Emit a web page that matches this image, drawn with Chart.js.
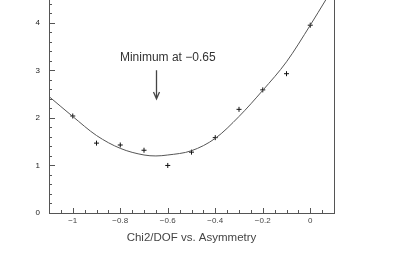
<!DOCTYPE html>
<html><head><meta charset="utf-8">
<script src="https://cdn.jsdelivr.net/npm/chart.js@4"></script>
<style>html,body{margin:0;padding:0;background:#fff}#wrap{width:393px;height:258px}</style>
</head><body><div id="wrap"><canvas id="c" width="393" height="258"></canvas></div>
<script>
// measured points
const asymmetry = [-1.0, -0.9, -0.8, -0.7, -0.6, -0.5, -0.4, -0.3, -0.2, -0.1, 0.0];
const chi2dof   = [2.04, 1.47, 1.43, 1.32, 1.00, 1.28, 1.585, 2.18, 2.59, 2.93, 3.95];
// fitted curve
const fitX = [-1.1, -1.0, -0.9, -0.8, -0.7, -0.65, -0.6, -0.5, -0.4, -0.3, -0.2, -0.1, 0.0, 0.065];
const fitY = [2.45, 2.03, 1.63, 1.36, 1.22, 1.20, 1.22, 1.31, 1.57, 2.03, 2.58, 3.18, 3.95, 4.48];
// axes
const xTickLabels = [-1, -0.8, -0.6, -0.4, -0.2, 0];
const yTickLabels = [0, 1, 2, 3, 4];
const xMinorTicks = [-1.1,-1.05,-1.0,-0.95,-0.9,-0.85,-0.8,-0.75,-0.7,-0.65,-0.6,-0.55,-0.5,-0.45,-0.4,-0.35,-0.3,-0.25,-0.2,-0.15,-0.1,-0.05,0,0.05,0.1];
const yMinorTicks = [0,0.2,0.4,0.6,0.8,1,1.2,1.4,1.6,1.8,2,2.2,2.4,2.6,2.8,3,3.2,3.4,3.6,3.8,4,4.2,4.4];
const titleText = 'Chi2/DOF vs. Asymmetry';
const annotationText = 'Minimum at \u22120.65';
const minimumAt = -0.65;

const fmt = v => (v < 0 ? '\u2212' : '') + String(Math.abs(Math.round(v * 10) / 10));
const FONT = "'Liberation Sans', Arial, sans-serif";
const AXIS = '#555';

const frame = {
  id: 'frame',
  afterDatasetsDraw(chart) {
    const {ctx, chartArea: a, scales: {x, y}} = chart;
    ctx.save();
    ctx.strokeStyle = AXIS;
    ctx.lineWidth = 1;
    // right border
    ctx.beginPath();
    ctx.moveTo(Math.round(a.right) + 0.5, a.top);
    ctx.lineTo(Math.round(a.right) + 0.5, a.bottom);
    ctx.stroke();
    // inward ticks
    ctx.beginPath();
    xMinorTicks.forEach(v => {
      const px = Math.round(x.getPixelForValue(v)) + 0.5;
      const major = xTickLabels.some(t => Math.abs(t - v) < 1e-6);
      ctx.moveTo(px, a.bottom);
      ctx.lineTo(px, a.bottom - (major ? 5 : 3));
    });
    yMinorTicks.forEach(v => {
      const py = Math.round(y.getPixelForValue(v)) + 0.5;
      const major = yTickLabels.some(t => Math.abs(t - v) < 1e-6);
      ctx.moveTo(a.left, py);
      ctx.lineTo(a.left + (major ? 6 : 3), py);
    });
    ctx.stroke();
    // annotation
    ctx.fillStyle = '#333';
    ctx.font = '12px ' + FONT;
    ctx.textAlign = 'center';
    ctx.textBaseline = 'middle';
    ctx.fillText(annotationText, x.getPixelForValue(-0.6), y.getPixelForValue(3.27));
    // arrow
    const ax = Math.round(x.getPixelForValue(minimumAt)) + 0.5;
    const y0 = y.getPixelForValue(3.0), y1 = y.getPixelForValue(2.4);
    ctx.strokeStyle = '#444';
    ctx.lineWidth = 1.3;
    ctx.beginPath();
    ctx.moveTo(ax, y0); ctx.lineTo(ax, y1);
    ctx.moveTo(ax - 3, y1 - 7); ctx.lineTo(ax, y1); ctx.lineTo(ax + 3, y1 - 7);
    ctx.stroke();
    ctx.restore();
  }
};

new Chart(document.getElementById('c'), {
  type: 'scatter',
  data: {
    datasets: [
      {
        data: fitX.map((v, i) => ({x: v, y: fitY[i]})),
        showLine: true, pointRadius: 0, borderColor: '#555', borderWidth: 1,
        cubicInterpolationMode: 'monotone', fill: false
      },
      {
        data: asymmetry.map((v, i) => ({x: v, y: chi2dof[i]})),
        showLine: false, pointStyle: 'cross', pointRadius: 2.5,
        borderColor: '#111', backgroundColor: '#111', borderWidth: 1
      }
    ]
  },
  options: {
    responsive: false, animation: false, devicePixelRatio: 1,
    layout: {autoPadding: false, padding: {left: 0, right: 59, top: 0, bottom: 0}},
    plugins: {legend: {display: false}, tooltip: {enabled: false}},
    scales: {
      x: {
        type: 'linear', min: -1.1, max: 0.1,
        afterBuildTicks: s => { s.ticks = xTickLabels.map(v => ({value: v})); },
        afterFit: s => { s.height = 45; s.paddingLeft = 0; s.paddingRight = 0; },
        grid: {display: false, drawTicks: false},
        border: {display: true, color: AXIS, width: 1},
        ticks: {padding: 3, color: '#444', font: {size: 8, family: FONT}, callback: v => fmt(v), autoSkip: false, maxRotation: 0},
        title: {display: true, text: titleText, color: '#444', font: {size: 11.5, family: FONT}, padding: {top: 0, bottom: 13}}
      },
      y: {
        type: 'linear', min: 0, max: 4.48,
        afterBuildTicks: s => { s.ticks = yTickLabels.map(v => ({value: v})); },
        afterFit: s => { s.width = 49; s.paddingTop = 0; s.paddingBottom = 0; },
        grid: {display: false, drawTicks: false},
        border: {display: true, color: AXIS, width: 1},
        ticks: {padding: 9, color: '#222', font: {size: 8, family: FONT}, callback: v => fmt(v)}
      }
    }
  },
  plugins: [frame]
});
</script>
</body></html>
